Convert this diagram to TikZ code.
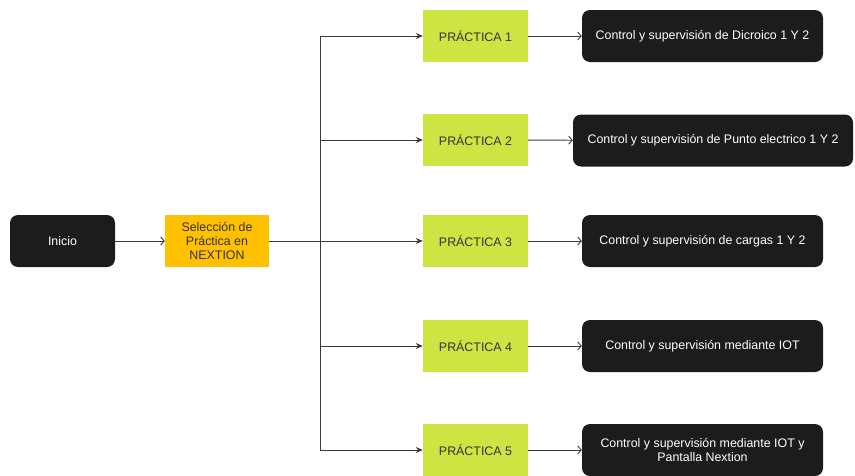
\documentclass[tikz,border=0pt]{standalone}
\usepackage{fontspec}
\setmainfont{Liberation Sans}
\usetikzlibrary{arrows.meta}
\definecolor{boxblack}{HTML}{1C1C1C}
\definecolor{selyellow}{HTML}{FFC000}
\definecolor{pracgreen}{HTML}{CEE443}
\definecolor{linegray}{HTML}{3A3A3A}
\definecolor{txtgray}{HTML}{333333}
\tikzset{
  darkbox/.style={draw=none, fill=boxblack, rounded corners=8pt, text=white, align=center,
    minimum height=52pt, font=\fontsize{12.4}{13.6}\selectfont, inner sep=2pt},
  selbox/.style={draw=none, fill=selyellow, text=txtgray, align=center, minimum width=104pt,
    minimum height=52pt, font=\fontsize{12.4}{13.6}\selectfont, inner sep=2pt},
  pracbox/.style={draw=none, fill=pracgreen, text=txtgray, minimum width=105pt,
    minimum height=52pt, font=\fontsize{12.4}{13.6}\selectfont, inner sep=2pt},
  conn/.style={draw=linegray, line width=0.9pt},
  openarrow/.style={conn, -{Straight Barb[length=3.5pt,width=8pt]}},
  fillarrow/.style={conn, -{Stealth[length=7pt,width=6pt]}}
}
\begin{document}
\begin{tikzpicture}[x=1pt,y=-1pt]
\useasboundingbox (0,0) rectangle (855,475);
\node[darkbox, minimum width=105pt] (inicio) at (62.5,241) {Inicio};
\node[selbox] (sel) at (217,241) {Selección de\\Práctica en\\NEXTION};

\node[pracbox] (p1) at (475.5,36) {PRÁCTICA 1};
\node[pracbox] (p2) at (475.5,140) {PRÁCTICA 2};
\node[pracbox] (p3) at (475.5,241) {PRÁCTICA 3};
\node[pracbox] (p4) at (475.5,346) {PRÁCTICA 4};
\node[pracbox] (p5) at (475.5,450) {PRÁCTICA 5};

\node[darkbox, minimum width=241pt] (r1) at (702.5,36) {Control y supervisión de Dicroico 1 Y 2};
\node[darkbox, minimum width=280pt] (r2) at (713,140.5) {Control y supervisión de Punto electrico 1 Y 2};
\node[darkbox, minimum width=241pt] (r3) at (702.5,241) {Control y supervisión de cargas 1 Y 2};
\node[darkbox, minimum width=241pt] (r4) at (702.5,346) {Control y supervisión mediante IOT};
\node[darkbox, minimum width=241pt] (r5) at (702.5,450) {Control y supervisión mediante IOT y\\Pantalla Nextion};

\coordinate (b1) at (320,36);
\coordinate (b2) at (320,140);
\coordinate (b3) at (320,241);
\coordinate (b4) at (320,346);
\coordinate (b5) at (320,450);

\draw[openarrow] (inicio) -- (sel);
\draw[conn] (sel.east) -- (b3);
\draw[conn] (b1) -- (b5);
\draw[fillarrow] (b1) -- (p1);
\draw[fillarrow] (b2) -- (p2);
\draw[fillarrow] (b3) -- (p3);
\draw[fillarrow] (b4) -- (p4);
\draw[fillarrow] (b5) -- (p5);

\draw[openarrow] (p1) -- (r1);
\draw[openarrow] (p2) -- (r2);
\draw[openarrow] (p3) -- (r3);
\draw[openarrow] (p4) -- (r4);
\draw[openarrow] (p5) -- (r5);
\end{tikzpicture}
\end{document}
